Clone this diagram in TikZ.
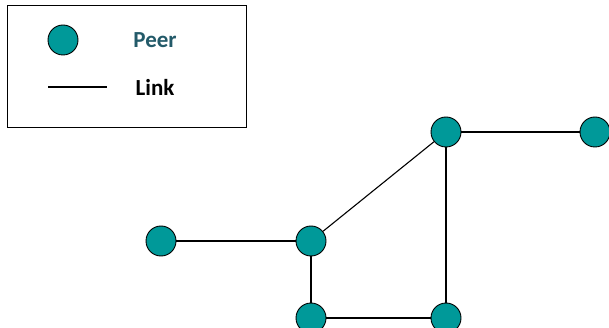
\documentclass[tikz,border=0pt]{standalone}
\usepackage{fontspec}
\setmainfont{Carlito}
\usetikzlibrary{positioning}
\definecolor{peer}{RGB}{0,153,153}
\definecolor{peertxt}{RGB}{35,90,105}

\begin{document}
\begin{tikzpicture}[x=1pt,y=-1pt,font=\bfseries\fontsize{23}{27}\selectfont,
  peer/.style={draw,circle,fill=peer,minimum size=30pt,inner sep=0pt,line width=0.9pt},
  link/.style={line width=1.1pt},
  lbl/.style={inner sep=0pt}]
  \useasboundingbox (0,0) rectangle (609,328);
  % legend
  \node[draw,line width=0.9pt,minimum width=239pt,minimum height=122pt,inner sep=0pt] (legend) at (126.5,66) {};
  \node[peer] (lpeer) at (63,40) {};
  \node[lbl,text=peertxt] (lpeertxt) at (155,40) {Peer};
  \coordinate (la) at (48,87);
  \coordinate (lb) at (107,87);
  \draw[link] (la)--(lb);
  \node[lbl] (llinktxt) at (155,87) {Link};
  % peers
  \node[peer] (pa) at (161,241) {};
  \node[peer] (pb) at (311,241) {};
  \node[peer] (pc) at (446,132) {};
  \node[peer] (pd) at (595,132) {};
  \node[peer] (pe) at (311,318) {};
  \node[peer] (pf) at (446,318) {};
  % links
  \draw[link] (pa)--(pb); \draw[link] (pb)--(pc); \draw[link] (pc)--(pd);
  \draw[link] (pb)--(pe); \draw[link] (pe)--(pf); \draw[link] (pc)--(pf);
\end{tikzpicture}
\end{document}
